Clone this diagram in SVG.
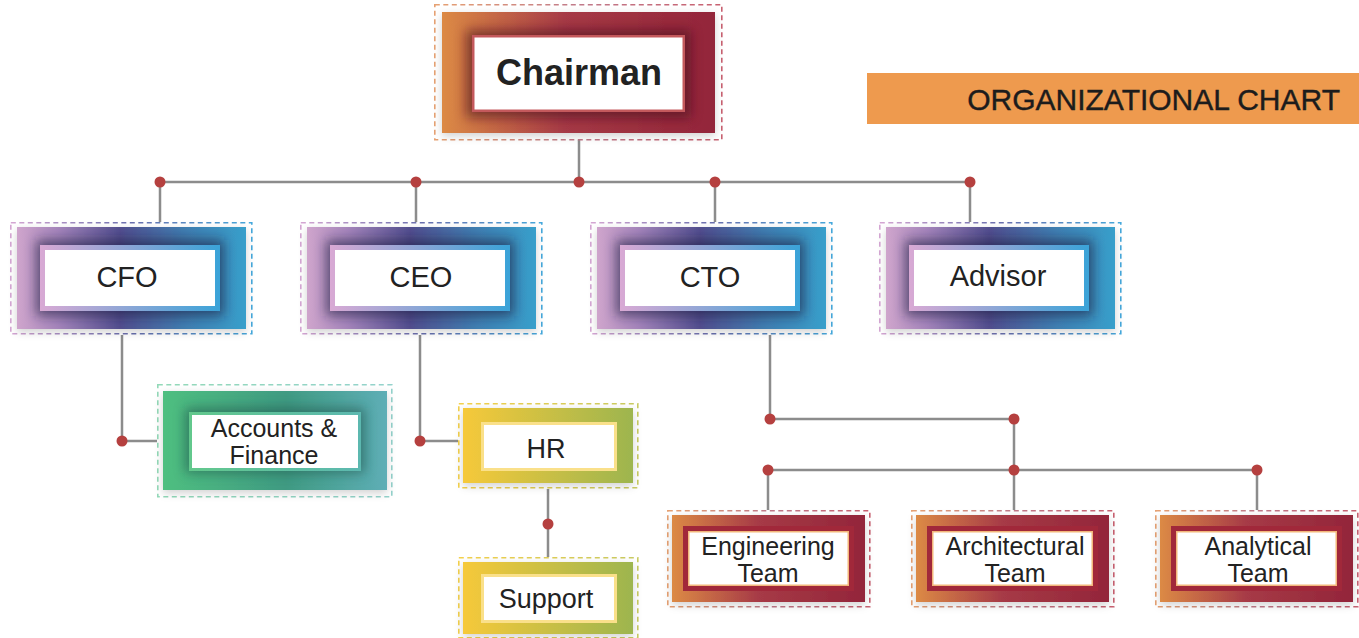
<svg xmlns="http://www.w3.org/2000/svg" width="1359" height="638" viewBox="0 0 1359 638">
  <defs>
    <!-- box fills -->
    <linearGradient id="gWarm" x1="0" y1="0" x2="1" y2="0">
      <stop offset="0" stop-color="#dc8a45"/>
      <stop offset="0.45" stop-color="#a63a46"/>
      <stop offset="1" stop-color="#93253a"/>
    </linearGradient>
    <linearGradient id="gCool" x1="0" y1="0" x2="1" y2="0">
      <stop offset="0" stop-color="#cfa5cc"/>
      <stop offset="0.18" stop-color="#a585bb"/>
      <stop offset="0.45" stop-color="#524e8e"/>
      <stop offset="0.75" stop-color="#3f80b2"/>
      <stop offset="1" stop-color="#389fcb"/>
    </linearGradient>
    <linearGradient id="gGreen" x1="0" y1="0" x2="1" y2="0">
      <stop offset="0" stop-color="#4fbf80"/>
      <stop offset="0.55" stop-color="#3f9a82"/>
      <stop offset="1" stop-color="#5eaeb6"/>
    </linearGradient>
    <linearGradient id="gYellow" x1="0" y1="0" x2="1" y2="0">
      <stop offset="0" stop-color="#f6c93a"/>
      <stop offset="1" stop-color="#9db54f"/>
    </linearGradient>
    <!-- thin frames round the white panels -->
    <linearGradient id="fCool" x1="0" y1="0" x2="1" y2="0">
      <stop offset="0" stop-color="#d9a9d4"/>
      <stop offset="1" stop-color="#3aa3d8"/>
    </linearGradient>
    <linearGradient id="fGreen" x1="0" y1="0" x2="1" y2="0">
      <stop offset="0" stop-color="#62c88c"/>
      <stop offset="1" stop-color="#5cb8b0"/>
    </linearGradient>
    <!-- dashed outline colours -->
    <linearGradient id="dWarm" x1="0" y1="0" x2="1" y2="0">
      <stop offset="0" stop-color="#e6a172"/>
      <stop offset="0.5" stop-color="#c07a8a"/>
      <stop offset="1" stop-color="#c86070"/>
    </linearGradient>
    <linearGradient id="dCool" x1="0" y1="0" x2="1" y2="0">
      <stop offset="0" stop-color="#d5a6d3"/>
      <stop offset="0.5" stop-color="#6a6fae"/>
      <stop offset="1" stop-color="#45a8dc"/>
    </linearGradient>
    <linearGradient id="dGreen" x1="0" y1="0" x2="1" y2="0">
      <stop offset="0" stop-color="#93d9b8"/>
      <stop offset="1" stop-color="#94d2cc"/>
    </linearGradient>
    <linearGradient id="dYellow" x1="0" y1="0" x2="1" y2="0">
      <stop offset="0" stop-color="#f4d14c"/>
      <stop offset="1" stop-color="#c9cb62"/>
    </linearGradient>
    <filter id="soft" x="-30%" y="-30%" width="160%" height="160%">
      <feGaussianBlur stdDeviation="6"/>
    </filter>
    <filter id="halo" x="-10%" y="-10%" width="120%" height="130%">
      <feDropShadow dx="0" dy="3" stdDeviation="4" flood-color="#000" flood-opacity="0.18"/>
    </filter>
  </defs>
  <style>
    .dash { fill: none; stroke-width: 1.6; stroke-dasharray: 5 3.5; }
    .lbl { font-family: "Liberation Sans", Arial, sans-serif; fill: #222; text-anchor: middle; }
    .wire { fill: none; stroke: #8c8c8c; stroke-width: 2.5; }
    .dot { fill: #b5403f; }
    .shade { fill: #1c1f3f; opacity: 0.6; }
  </style>

  <rect width="1359" height="638" fill="#fff"/>

  <!-- title banner -->
  <g id="title">
    <rect x="867" y="73" width="492" height="51" fill="#ee9a4e"/>
    <text x="1340" y="110" font-family="'Liberation Sans', Arial, sans-serif" font-size="30" fill="#1c1c1c" stroke="#1c1c1c" stroke-width="0.4" text-anchor="end">ORGANIZATIONAL CHART</text>
  </g>

  <!-- connectors -->
  <g id="connectors">
    <path class="wire" d="M579 140V182M160 182H970M160 182V222M416 182V222M715 182V222M970 182V222"/>
    <path class="wire" d="M122 335V441H157M420 335V441H458M548 489V557"/>
    <path class="wire" d="M770 335V419H1014V470M768 470H1257M768 470V510M1014 470V510M1257 470V510"/>
    <circle class="dot" cx="160" cy="182" r="5.5"/>
    <circle class="dot" cx="416" cy="182" r="5.5"/>
    <circle class="dot" cx="579" cy="182" r="5.5"/>
    <circle class="dot" cx="715" cy="182" r="5.5"/>
    <circle class="dot" cx="970" cy="182" r="5.5"/>
    <circle class="dot" cx="122" cy="441" r="5.5"/>
    <circle class="dot" cx="420" cy="441" r="5.5"/>
    <circle class="dot" cx="548" cy="524" r="5.5"/>
    <circle class="dot" cx="770" cy="419" r="5.5"/>
    <circle class="dot" cx="1014" cy="419" r="5.5"/>
    <circle class="dot" cx="768" cy="470" r="5.5"/>
    <circle class="dot" cx="1014" cy="470" r="5.5"/>
    <circle class="dot" cx="1257" cy="470" r="5.5"/>
  </g>

  <!-- top node -->
  <g id="chairman" transform="translate(434,4)">
    <rect class="dash" x="0.8" y="0.8" width="287" height="135" stroke="url(#dWarm)"/>
    <rect x="8" y="8" width="273" height="121" fill="url(#gWarm)" filter="url(#halo)"/>
    <rect x="32" y="26" width="225" height="88" fill="#4a0f1c" opacity="0.6" filter="url(#soft)"/>
    <rect x="38" y="31" width="213" height="77" fill="#c4595c"/>
    <rect x="40.5" y="33.5" width="208" height="72" fill="#fff"/>
    <text class="lbl" x="145" y="81" font-size="36" font-weight="bold">Chairman</text>
  </g>

  <!-- second level -->
  <g id="cfo" transform="translate(10,222)">
    <rect class="dash" x="0.8" y="0.8" width="241" height="111" stroke="url(#dCool)"/>
    <rect x="7" y="5" width="229" height="102" fill="url(#gCool)" filter="url(#halo)"/>
    <rect class="shade" x="26" y="18" width="188" height="76" filter="url(#soft)"/>
    <rect x="30" y="23" width="180" height="66" fill="url(#fCool)"/>
    <rect x="35" y="28" width="170" height="56" fill="#fff"/>
    <text class="lbl" x="117" y="65" font-size="29">CFO</text>
  </g>

  <g id="ceo" transform="translate(300,222)">
    <rect class="dash" x="0.8" y="0.8" width="241" height="111" stroke="url(#dCool)"/>
    <rect x="7" y="5" width="229" height="102" fill="url(#gCool)" filter="url(#halo)"/>
    <rect class="shade" x="26" y="18" width="188" height="76" filter="url(#soft)"/>
    <rect x="30" y="23" width="180" height="66" fill="url(#fCool)"/>
    <rect x="35" y="28" width="170" height="56" fill="#fff"/>
    <text class="lbl" x="121" y="65" font-size="29">CEO</text>
  </g>

  <g id="cto" transform="translate(590,222)">
    <rect class="dash" x="0.8" y="0.8" width="241" height="111" stroke="url(#dCool)"/>
    <rect x="7" y="5" width="229" height="102" fill="url(#gCool)" filter="url(#halo)"/>
    <rect class="shade" x="26" y="18" width="188" height="76" filter="url(#soft)"/>
    <rect x="30" y="23" width="180" height="66" fill="url(#fCool)"/>
    <rect x="35" y="28" width="170" height="56" fill="#fff"/>
    <text class="lbl" x="120" y="65" font-size="29">CTO</text>
  </g>

  <g id="advisor" transform="translate(879,222)">
    <rect class="dash" x="0.8" y="0.8" width="241" height="111" stroke="url(#dCool)"/>
    <rect x="7" y="5" width="229" height="102" fill="url(#gCool)" filter="url(#halo)"/>
    <rect class="shade" x="26" y="18" width="188" height="76" filter="url(#soft)"/>
    <rect x="30" y="23" width="180" height="66" fill="url(#fCool)"/>
    <rect x="35" y="28" width="170" height="56" fill="#fff"/>
    <text class="lbl" x="119" y="64" font-size="29">Advisor</text>
  </g>

  <!-- third level -->
  <g id="accounts" transform="translate(157,384)">
    <rect class="dash" x="0.8" y="0.8" width="234" height="112" stroke="url(#dGreen)"/>
    <rect x="6" y="7" width="224" height="99" fill="url(#gGreen)" filter="url(#halo)"/>
    <rect x="28" y="24" width="180" height="65" fill="#1f4f46" opacity="0.55" filter="url(#soft)"/>
    <rect x="32" y="28" width="172" height="59" fill="url(#fGreen)"/>
    <rect x="35" y="31" width="166" height="53" fill="#fff"/>
    <text class="lbl" x="117" y="53" font-size="25">Accounts &amp;</text>
    <text class="lbl" x="117" y="80" font-size="25">Finance</text>
  </g>

  <g id="hr" transform="translate(458,403)">
    <rect class="dash" x="0.8" y="0.8" width="179" height="84" stroke="url(#dYellow)"/>
    <rect x="5" y="5" width="170" height="75" fill="url(#gYellow)" filter="url(#halo)"/>
    <rect x="23" y="19" width="136" height="49" fill="#fae08a"/>
    <rect x="26" y="22" width="130" height="43" fill="#fff"/>
    <text class="lbl" x="88" y="55" font-size="27">HR</text>
  </g>

  <g id="support" transform="translate(458,557)">
    <rect class="dash" x="0.8" y="0.8" width="179" height="80" stroke="url(#dYellow)"/>
    <rect x="5" y="5" width="170" height="72" fill="url(#gYellow)" filter="url(#halo)"/>
    <rect x="23" y="17" width="136" height="49" fill="#fae08a"/>
    <rect x="26" y="20" width="130" height="43" fill="#fff"/>
    <text class="lbl" x="88" y="51" font-size="27">Support</text>
  </g>

  <!-- technology teams -->
  <g id="engineering" transform="translate(667,510)">
    <rect class="dash" x="0.8" y="0.8" width="202" height="96" stroke="url(#dWarm)"/>
    <rect x="5" y="5" width="193" height="87" fill="url(#gWarm)" filter="url(#halo)"/>
    <rect x="16" y="16" width="171" height="65" fill="#a1283a"/>
    <rect x="21" y="21" width="161" height="55" fill="#f2b77a"/>
    <rect x="22.5" y="22.5" width="158" height="52" fill="#fff"/>
    <text class="lbl" x="101" y="45" font-size="25">Engineering</text>
    <text class="lbl" x="101" y="72" font-size="25">Team</text>
  </g>

  <g id="architectural" transform="translate(911,510)">
    <rect class="dash" x="0.8" y="0.8" width="202" height="96" stroke="url(#dWarm)"/>
    <rect x="5" y="5" width="193" height="87" fill="url(#gWarm)" filter="url(#halo)"/>
    <rect x="16" y="16" width="171" height="65" fill="#a1283a"/>
    <rect x="21" y="21" width="161" height="55" fill="#f2b77a"/>
    <rect x="22.5" y="22.5" width="158" height="52" fill="#fff"/>
    <text class="lbl" x="104" y="45" font-size="25">Architectural</text>
    <text class="lbl" x="104" y="72" font-size="25">Team</text>
  </g>

  <g id="analytical" transform="translate(1155,510)">
    <rect class="dash" x="0.8" y="0.8" width="202" height="96" stroke="url(#dWarm)"/>
    <rect x="5" y="5" width="193" height="87" fill="url(#gWarm)" filter="url(#halo)"/>
    <rect x="16" y="16" width="171" height="65" fill="#a1283a"/>
    <rect x="21" y="21" width="161" height="55" fill="#f2b77a"/>
    <rect x="22.5" y="22.5" width="158" height="52" fill="#fff"/>
    <text class="lbl" x="103" y="45" font-size="25">Analytical</text>
    <text class="lbl" x="103" y="72" font-size="25">Team</text>
  </g>
</svg>
